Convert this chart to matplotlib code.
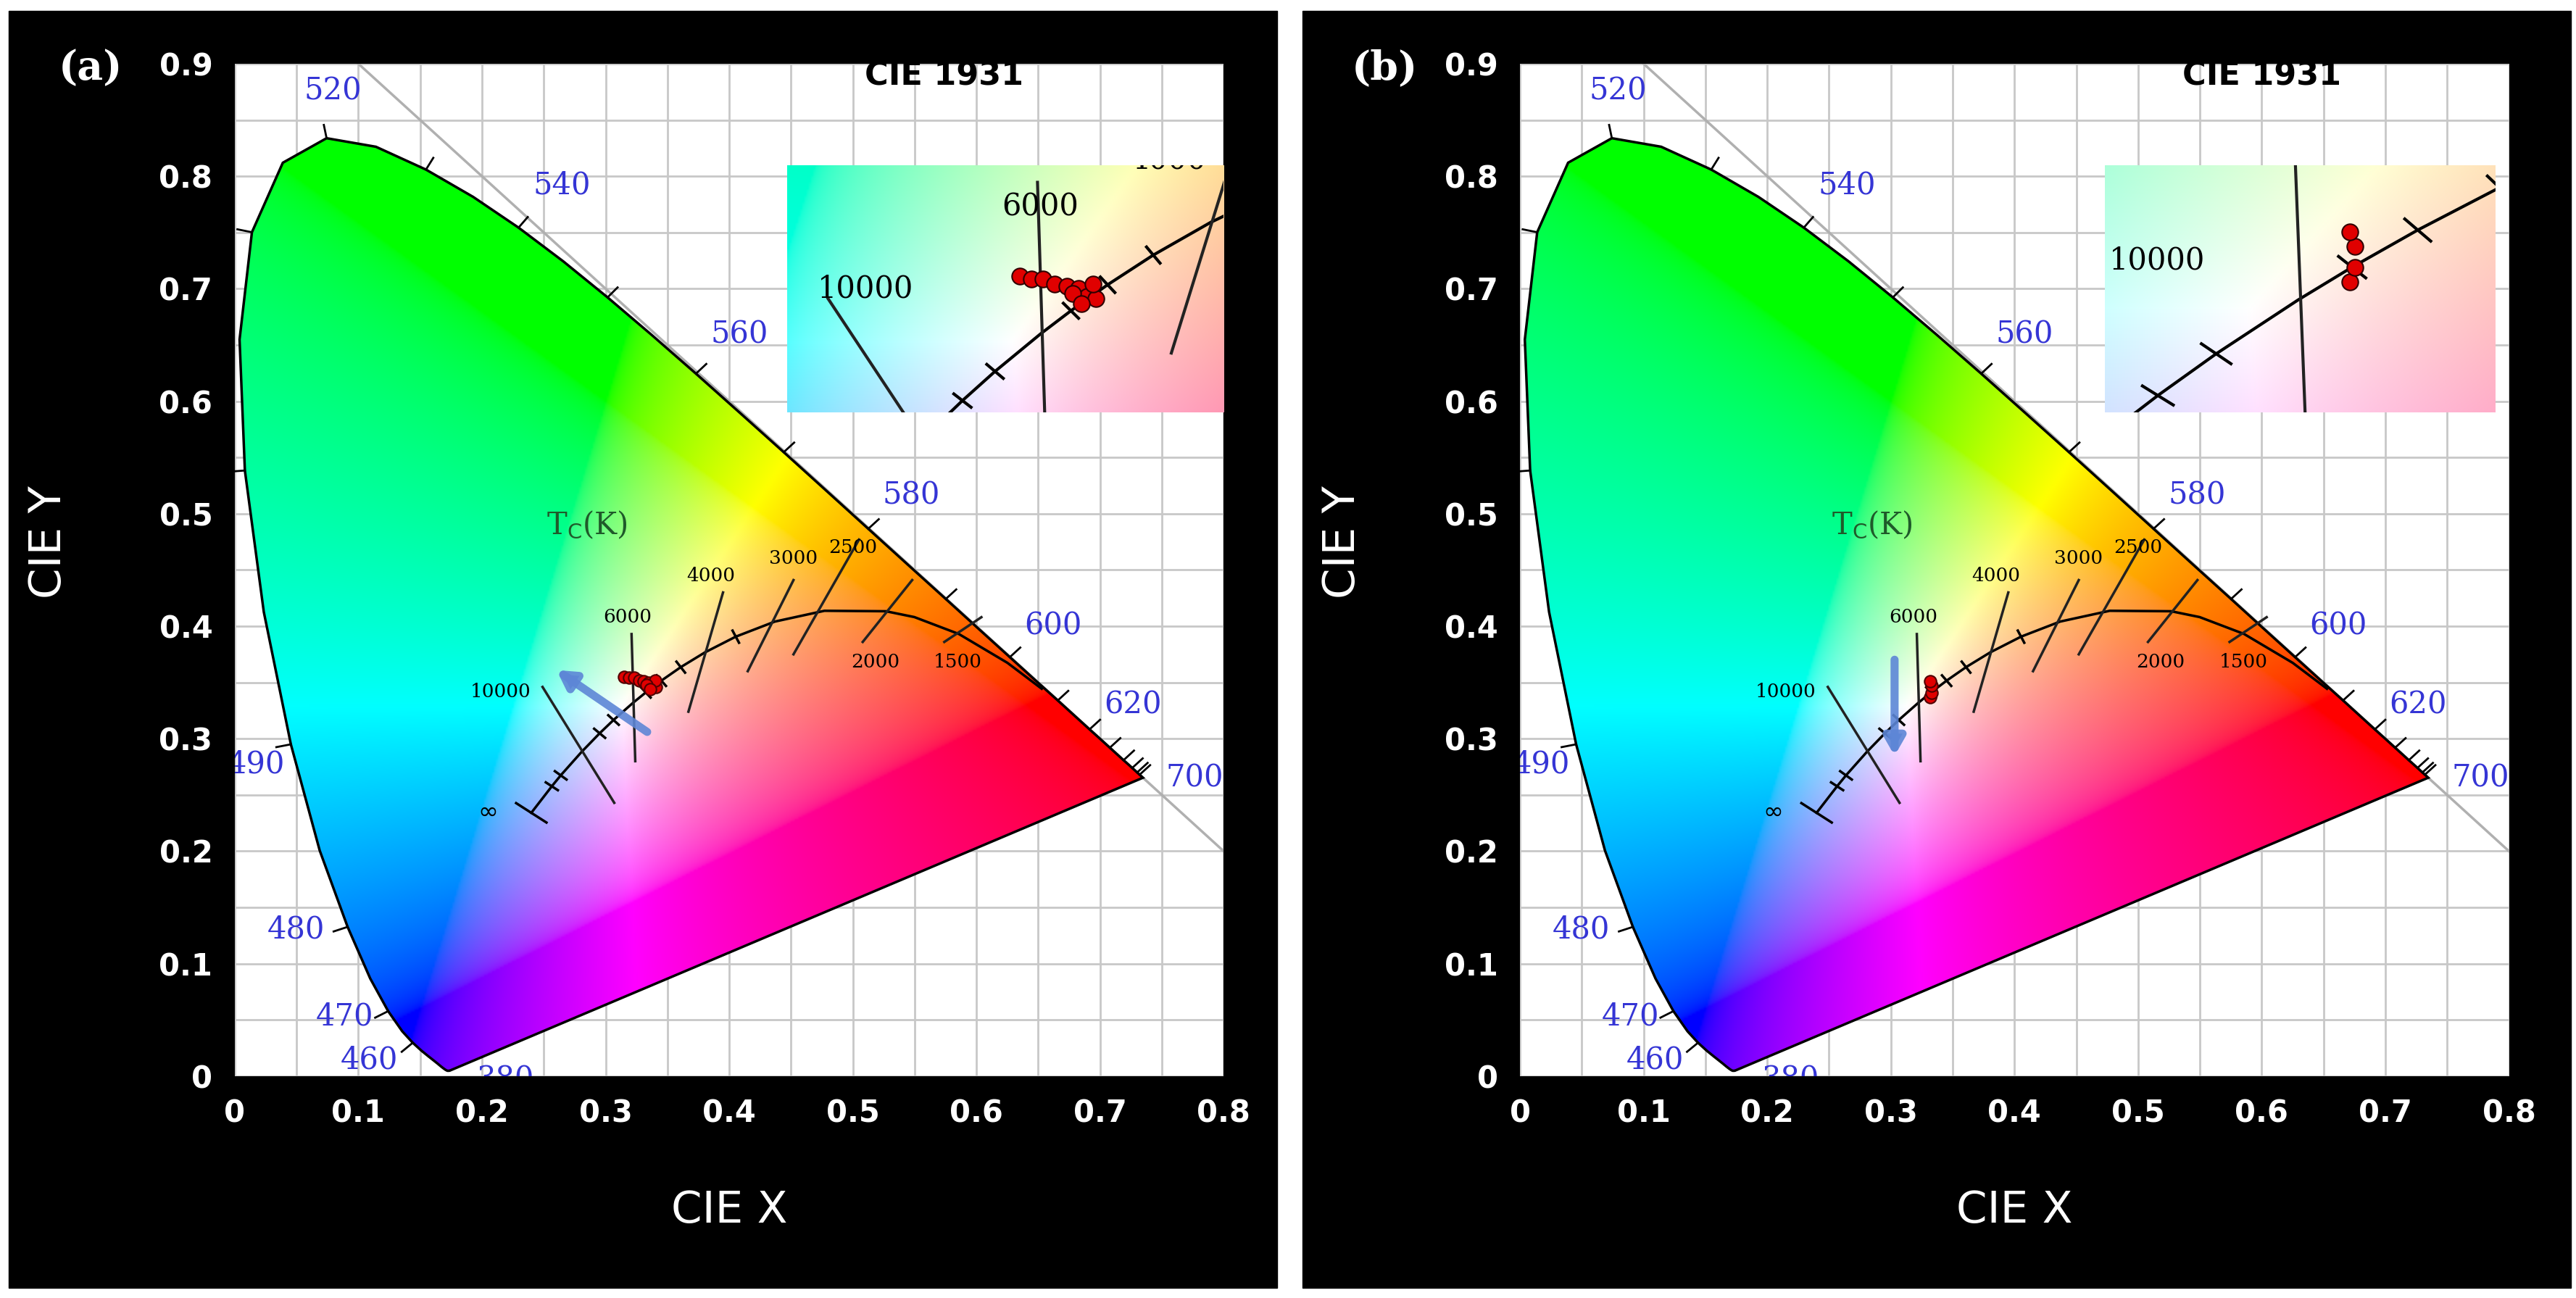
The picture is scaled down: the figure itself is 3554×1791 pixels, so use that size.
import matplotlib
matplotlib.use("Agg")
import matplotlib.pyplot as plt
import numpy as np
from matplotlib.patches import Polygon, Rectangle

# CIE 1931 spectral locus (nm, x, y)
wl = [380, 385, 390, 395, 400, 405, 410, 415, 420, 425, 430, 435, 440, 445, 450, 455,
      460, 465, 470, 475, 480, 485, 490, 495, 500, 505, 510, 515, 520, 525, 530, 535,
      540, 545, 550, 555, 560, 565, 570, 575, 580, 585, 590, 595, 600, 605, 610, 615,
      620, 625, 630, 635, 640, 645, 650, 655, 660, 665, 670, 680, 690, 700]
loc_x = [0.1741, 0.1740, 0.1738, 0.1736, 0.1733, 0.1730, 0.1726, 0.1721, 0.1714, 0.1703,
         0.1689, 0.1669, 0.1644, 0.1611, 0.1566, 0.1510, 0.1440, 0.1355, 0.1241, 0.1096,
         0.0913, 0.0687, 0.0454, 0.0235, 0.0082, 0.0039, 0.0139, 0.0389, 0.0743, 0.1142,
         0.1547, 0.1929, 0.2296, 0.2658, 0.3016, 0.3373, 0.3731, 0.4087, 0.4441, 0.4788,
         0.5125, 0.5448, 0.5752, 0.6029, 0.6270, 0.6482, 0.6658, 0.6801, 0.6915, 0.7006,
         0.7079, 0.7140, 0.7190, 0.7230, 0.7260, 0.7283, 0.7300, 0.7311, 0.7320, 0.7334,
         0.7344, 0.7347]
loc_y = [0.0050, 0.0050, 0.0049, 0.0049, 0.0048, 0.0048, 0.0048, 0.0048, 0.0051, 0.0058,
         0.0069, 0.0086, 0.0109, 0.0138, 0.0177, 0.0227, 0.0297, 0.0399, 0.0578, 0.0868,
         0.1327, 0.2007, 0.2950, 0.4127, 0.5384, 0.6548, 0.7502, 0.8120, 0.8338, 0.8262,
         0.8059, 0.7816, 0.7543, 0.7243, 0.6923, 0.6589, 0.6245, 0.5896, 0.5547, 0.5202,
         0.4866, 0.4544, 0.4242, 0.3965, 0.3725, 0.3514, 0.3340, 0.3197, 0.3083, 0.2993,
         0.2920, 0.2859, 0.2809, 0.2770, 0.2740, 0.2717, 0.2700, 0.2689, 0.2680, 0.2666,
         0.2656, 0.2653]

wl_labels = [380, 460, 470, 480, 490, 520, 540, 560, 580, 600, 620, 700]
wl_label_dx = [0.045, -0.035, -0.035, -0.042, -0.028, 0.005, 0.035, 0.035, 0.035, 0.035, 0.035, 0.042]
wl_label_dy = [-0.008, -0.015, -0.005, -0.002, -0.018, 0.042, 0.038, 0.035, 0.03, 0.028, 0.022, 0.0]
wl_ticks = [460, 470, 480, 490, 500, 510, 520, 530, 540, 550, 560, 570, 580, 590, 600, 610, 620, 630, 640, 650, 660, 670]

# Planckian locus (K, x, y)
cct = [1000, 1200, 1500, 1800, 2000, 2500, 3000, 3500, 4000, 4500, 5000, 5500, 6000,
       7000, 8000, 10000, 15000, 20000, 1e9]
pl_x = [0.6528, 0.6251, 0.5857, 0.5498, 0.5267, 0.4770, 0.4369, 0.4053, 0.3805, 0.3608,
        0.3451, 0.3325, 0.3221, 0.3064, 0.2952, 0.2807, 0.2637, 0.2565, 0.2399]
pl_y = [0.3444, 0.3674, 0.3931, 0.4081, 0.4133, 0.4137, 0.4041, 0.3907, 0.3768, 0.3636,
        0.3516, 0.3411, 0.3318, 0.3166, 0.3048, 0.2884, 0.2674, 0.2577, 0.2341]
pl_small_ticks = [3500, 4500, 5000, 5500, 7000, 8000, 15000, 20000]

# isotherm segments (label, x0, y0, x1, y1)
iso_lab = ["1500", "2000", "2500", "3000", "4000", "6000", "10000"]
iso_x0 = [0.574, 0.508, 0.452, 0.415, 0.367, 0.324, 0.249]
iso_y0 = [0.386, 0.386, 0.375, 0.360, 0.324, 0.280, 0.346]
iso_x1 = [0.604, 0.548, 0.505, 0.452, 0.395, 0.321, 0.307]
iso_y1 = [0.408, 0.441, 0.477, 0.441, 0.430, 0.393, 0.243]
iso_tx = [0.585, 0.518, 0.500, 0.452, 0.385, 0.318, 0.215]
iso_ty = [0.368, 0.368, 0.470, 0.460, 0.445, 0.408, 0.342]

# measured points and shift arrows
pts_a_x = [0.315, 0.319, 0.323, 0.327, 0.331, 0.335, 0.338, 0.341, 0.340, 0.333, 0.336]
pts_a_y = [0.355, 0.354, 0.354, 0.352, 0.351, 0.350, 0.347, 0.346, 0.352, 0.348, 0.344]
pts_b_x = [0.332, 0.333, 0.333, 0.332]
pts_b_y = [0.337, 0.341, 0.347, 0.351]
arrow_a = (0.335, 0.305, 0.259, 0.362)
arrow_b = (0.303, 0.372, 0.303, 0.283)

inset_a_lim = (0.235, 0.385, 0.30, 0.40)
inset_b_lim = (0.285, 0.36, 0.30, 0.37)

W, H = 3555, 1791
fig = plt.figure(figsize=(W / 100, H / 100), dpi=100)
fig.patch.set_facecolor("white")
bg = fig.add_axes([0, 0, 1, 1], zorder=-5)
bg.set_xlim(0, W)
bg.set_ylim(H, 0)
bg.axis("off")
for x0 in (12, 1797):
    bg.add_patch(Rectangle((x0, 15), 1750, 1762, color="black"))

M = np.array([[3.2406, -1.5372, -0.4986], [-0.9689, 1.8758, 0.0415], [0.0557, -0.2040, 1.0570]])


def chroma_image(x0, x1, y0, y1, n=500):
    xx, yy = np.meshgrid(np.linspace(x0, x1, n), np.linspace(y0, y1, n))
    yy = np.maximum(yy, 1e-3)
    XYZ = np.stack([xx / yy, np.ones_like(xx), (1 - xx - yy) / yy], axis=-1)
    rgb = np.clip(XYZ @ M.T, 0, None)
    rgb = rgb / rgb.max(axis=-1, keepdims=True)
    return np.clip(rgb, 0, 1) ** (1 / 2.2)


def draw_planck(ax, lw=2.5, tick=0.012):
    ax.plot(pl_x, pl_y, color="black", lw=lw, zorder=4)
    for t in pl_small_ticks + [1e9]:
        i = cct.index(t)
        j = max(i - 1, 0)
        k = min(i + 1, len(cct) - 1)
        tx, ty = pl_x[k] - pl_x[j], pl_y[k] - pl_y[j]
        n = np.hypot(tx, ty)
        nx, ny = -ty / n, tx / n
        L = tick * (2.5 if t == 1e9 else 1)
        ax.plot([pl_x[i] - nx * L / 2, pl_x[i] + nx * L / 2],
                [pl_y[i] - ny * L / 2, pl_y[i] + ny * L / 2], color="black", lw=lw, zorder=4)
    for i in range(len(iso_lab)):
        ax.plot([iso_x0[i], iso_x1[i]], [iso_y0[i], iso_y1[i]], color="#222222", lw=lw, zorder=4)


def panel(left, tag, pts_x, pts_y, arrow, inset_lim, inset_labels):
    ax = fig.add_axes([left, 0.1709, 0.3838, 0.78])
    ax.set_xlim(0, 0.8)
    ax.set_ylim(0, 0.9)
    ax.set_facecolor("white")
    for s in ax.spines.values():
        s.set_visible(False)
    ax.set_xticks(np.arange(0, 0.81, 0.05))
    ax.set_yticks(np.arange(0, 0.91, 0.05))
    ax.grid(True, color="#c8c8c8", lw=2)
    ax.set_xticklabels(["0" if i == 0 else ("%.1f" % (i * 0.05) if i % 2 == 0 else "") for i in range(17)])
    ax.set_yticklabels(["0" if i == 0 else ("%.1f" % (i * 0.05) if i % 2 == 0 else "") for i in range(19)])
    ax.tick_params(colors="white", labelsize=30, length=0, pad=22)
    for lab in ax.get_xticklabels() + ax.get_yticklabels():
        lab.set_fontweight("bold")
    ax.set_axisbelow(True)

    ax.plot([0.1, 0.8], [0.9, 0.2], color="#b0b0b0", lw=2.5, zorder=1)
    img = ax.imshow(chroma_image(0, 0.8, 0, 0.9), extent=(0, 0.8, 0, 0.9), origin="lower",
                    zorder=2, interpolation="bilinear", aspect="auto")
    poly = Polygon(np.column_stack([loc_x, loc_y]), closed=True, fc="none", ec="black", lw=2.5, zorder=3)
    ax.add_patch(poly)
    img.set_clip_path(poly)

    for w in wl_ticks:
        i = wl.index(w)
        tx, ty = loc_x[i + 1] - loc_x[i - 1], loc_y[i + 1] - loc_y[i - 1]
        n = np.hypot(tx, ty)
        nx, ny = -ty / n, tx / n
        ax.plot([loc_x[i], loc_x[i] + nx * 0.012], [loc_y[i], loc_y[i] + ny * 0.012],
                color="black", lw=2, zorder=3)
    for w, dx, dy in zip(wl_labels, wl_label_dx, wl_label_dy):
        i = wl.index(w)
        ax.text(loc_x[i] + dx, loc_y[i] + dy, str(w), color="#3535d5", fontsize=30,
                family="DejaVu Serif", ha="center", va="center", zorder=5, clip_on=True)

    draw_planck(ax)
    for i in range(len(iso_lab)):
        ax.text(iso_tx[i], iso_ty[i], iso_lab[i], fontsize=19, family="DejaVu Serif",
                ha="center", va="center", zorder=5)
    ax.text(0.205, 0.235, "∞", fontsize=24, ha="center", va="center", zorder=5)
    ax.text(0.285, 0.49, r"T$_{\rm C}$(K)", fontsize=30, family="DejaVu Serif",
            color="#1f5a2a", ha="center", va="center", zorder=5)
    ax.scatter(pts_x, pts_y, s=140, color="#e00000", edgecolor="#500000", lw=1.5, zorder=6)
    ax.annotate("", xy=arrow[2:], xytext=arrow[:2], zorder=7,
                arrowprops=dict(arrowstyle="-|>,head_width=0.8,head_length=1.4",
                                color="#5d86d6", lw=8, alpha=0.9))
    ax.text(0.6 if tag == "(b)" else 0.574, 0.889, "CIE 1931", fontsize=32, fontweight="bold",
            ha="center", va="center", zorder=5)

    # zoomed inset
    ins = ax.inset_axes([0.447 if tag == "(a)" else 0.473, 0.59,
                         0.353 if tag == "(a)" else 0.316, 0.22], transform=ax.transData, zorder=8)
    x0, x1, y0, y1 = inset_lim
    ins.imshow(chroma_image(x0, x1, y0, y1, 200), extent=(x0, x1, y0, y1), origin="lower",
               aspect="auto", interpolation="bilinear")
    draw_planck(ins, lw=3, tick=0.008)
    ins.scatter(pts_x, pts_y, s=260, color="#e00000", edgecolor="#300000", lw=1.5, zorder=6)
    for lab, x, y in inset_labels:
        ins.text(x, y, lab, fontsize=30, family="DejaVu Serif", ha="center", va="center",
                 zorder=5, clip_on=True)
    ins.set_xlim(x0, x1)
    ins.set_ylim(y0, y1)
    ins.set_xticks([])
    ins.set_yticks([])
    for s in ins.spines.values():
        s.set_visible(False)
    return ax


panel(0.0911, "(a)", pts_a_x, pts_a_y, arrow_a, inset_a_lim,
      [("10000", 0.262, 0.350), ("6000", 0.322, 0.383), ("4000", 0.366, 0.402)])
panel(0.5899, "(b)", pts_b_x, pts_b_y, arrow_b, inset_b_lim,
      [("10000", 0.295, 0.343)])

for cx in (0.2831, 0.7818):
    fig.text(cx, 1 - 1671 / H, "CIE X", color="white", fontsize=44, ha="center", va="center")
for lx, tag, tx in ((68, "(a)", 125), (1853, "(b)", 1910)):
    fig.text(lx / W, 1 - 748 / H, "CIE Y", color="white", fontsize=44, rotation=90,
             ha="center", va="center")
    fig.text(tx / W, 1 - 95 / H, tag, color="white", fontsize=40, fontweight="bold",
             family="DejaVu Serif", ha="center", va="center")

fig.savefig("out.png", dpi=100, facecolor=fig.get_facecolor())
